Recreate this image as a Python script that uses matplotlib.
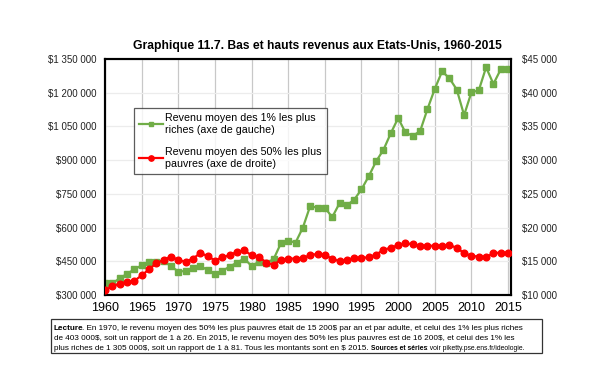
import matplotlib
matplotlib.use("Agg")
import matplotlib.pyplot as plt
from matplotlib.ticker import FuncFormatter, MultipleLocator

plt.rcParams["font.family"] = ["Liberation Sans", "DejaVu Sans"]
plt.rcParams["text.parse_math"] = False

years = list(range(1960, 2016))

top1 = [352000, 352000, 374000, 394000, 414000, 432000, 445000, 448000, 451000, 429000,
        404000, 407000, 422000, 429000, 411000, 394000, 407000, 426000, 444000, 462000,
        429000, 448000, 444000, 459000, 530000, 542000, 533000, 600000, 696000, 688000,
        689000, 646000, 708000, 699000, 724000, 770000, 829000, 895000, 946000, 1020000,
        1087000, 1023000, 1008000, 1029000, 1127000, 1217000, 1295000, 1264000, 1214000, 1100000,
        1202000, 1210000, 1313000, 1239000, 1304000, 1305000]

bottom50 = [10700, 11300, 11700, 11900, 12100, 12900, 13800, 14700, 15200, 15700,
            15200, 14900, 15400, 16200, 15800, 15100, 15600, 15900, 16400, 16600,
            15900, 15700, 14800, 14500, 15200, 15400, 15400, 15500, 15900, 16100,
            15900, 15400, 15000, 15200, 15500, 15500, 15600, 16000, 16700, 17000,
            17400, 17700, 17500, 17300, 17300, 17300, 17300, 17400, 17000, 16200,
            15800, 15700, 15600, 16200, 16300, 16200]

title = "Graphique 11.7. Bas et hauts revenus aux Etats-Unis, 1960-2015"
label_top = "Revenu moyen des 1% les plus\nriches (axe de gauche)"
label_bottom = "Revenu moyen des 50% les plus\npauvres (axe de droite)"


def money(v, pos):
    return "$" + f"{int(v):,}".replace(",", " ")


fig = plt.figure(figsize=(6, 3.89), dpi=100)
ax = fig.add_axes([105 / 600, 1 - 295 / 389, 406 / 600, 236 / 389])
ax2 = ax.twinx()

ax.plot(years, top1, color="#70AD47", marker="s", markersize=4, linewidth=1.6,
        label=label_top, zorder=3)
ax2.plot(years, bottom50, color="#FF0000", marker="o", markersize=4.8, linewidth=1.6,
         label=label_bottom, zorder=3)

ax.set_xlim(1960, 2015.4)
ax.set_ylim(300000, 1350000)
ax2.set_ylim(10000, 45000)
ax.xaxis.set_major_locator(MultipleLocator(5))
ax.yaxis.set_major_locator(MultipleLocator(150000))
ax2.yaxis.set_major_locator(MultipleLocator(5000))
ax.yaxis.set_major_formatter(FuncFormatter(money))
ax2.yaxis.set_major_formatter(FuncFormatter(money))

ax.grid(axis="x", color="#c8c8c8", linewidth=0.9)
ax.grid(axis="y", color="#ececec", linewidth=0.9)
ax.set_axisbelow(True)
ax.tick_params(axis="x", labelsize=9, length=0, pad=5)
ax.tick_params(axis="y", labelsize=7, length=0, pad=6, colors="#222222")
ax2.tick_params(axis="y", labelsize=7, length=0, pad=8, colors="#222222")
for a in (ax, ax2):
    for s in a.spines.values():
        s.set_linewidth(1.5)
        s.set_color("black")

fig.text(317 / 600, 1 - 46 / 389, title, fontsize=8.7, fontweight="bold",
         ha="center", va="center")

h1, l1 = ax.get_legend_handles_labels()
h2, l2 = ax2.get_legend_handles_labels()
leg = ax2.legend(h1 + h2, l1 + l2, loc="upper left", bbox_to_anchor=(29 / 406, 187 / 236),
                 fontsize=7.7, frameon=True, fancybox=False, edgecolor="#333333",
                 handlelength=2.2, handletextpad=0.2, labelspacing=1.15,
                 borderpad=0.5, borderaxespad=0, markerscale=0.8)
leg.get_frame().set_linewidth(0.9)

# note box
box = plt.Rectangle((51 / 600, 1 - 353 / 389), 491 / 600, 34 / 389, transform=fig.transFigure,
                    fill=False, edgecolor="#333333", linewidth=0.9)
fig.add_artist(box)

fs = 5.9
x0 = 54 / 600
t1 = fig.text(x0, 1 - 330 / 389, "Lecture", fontsize=fs, fontweight="bold")
ax.annotate(". En 1970, le revenu moyen des 50% les plus pauvres était de 15 200$ par an et par adulte, "
            "et celui des 1% les plus riches", xy=(1, 0), xycoords=t1, xytext=(-1.5, 0),
            textcoords="offset points", va="bottom", fontsize=fs, annotation_clip=False)
fig.text(x0, 1 - 340 / 389, "de 403 000$, soit un rapport de 1 à 26. En 2015, le revenu moyen des 50% les "
         "plus pauvres est de 16 200$, et celui des 1% les", fontsize=fs)
t3 = fig.text(x0, 1 - 349.5 / 389, "plus riches de 1 305 000$, soit un rapport de 1 à 81. Tous les montants "
              "sont en $ 2015.", fontsize=fs)
t4 = ax.annotate("Sources et séries", xy=(1, 0), xycoords=t3, xytext=(1.5, 0),
                 textcoords="offset points", va="bottom", fontsize=4.9,
                 fontweight="bold", annotation_clip=False)
ax.annotate(": voir piketty.pse.ens.fr/ideologie.", xy=(1, 0), xycoords=t4, xytext=(-0.6, 0),
            textcoords="offset points", va="bottom", fontsize=4.9, annotation_clip=False)

fig.savefig("out.png", dpi=100)
